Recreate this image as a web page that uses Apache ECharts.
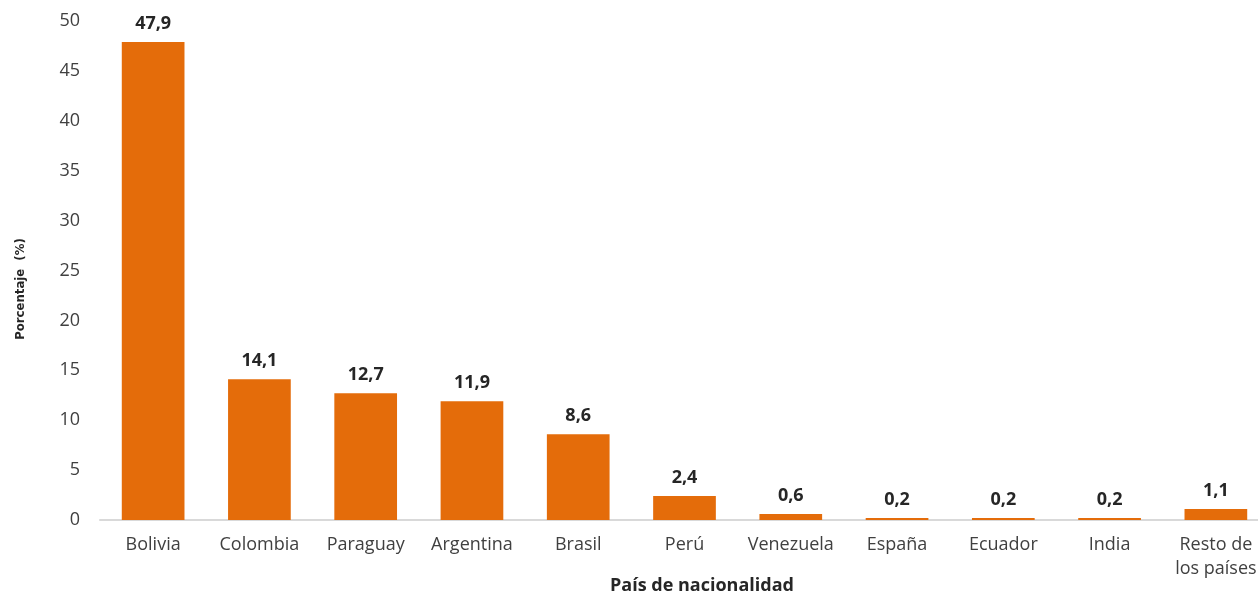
<!DOCTYPE html>
<html>
<head>
<meta charset="utf-8">
<script src="https://cdn.jsdelivr.net/npm/echarts@6/dist/echarts.min.js"></script>
<style>
  html, body { margin: 0; padding: 0; background: #fff; }
  #chart { width: 1258px; height: 596px; }
</style>
</head>
<body>
<div id="chart"></div>
<script>
// datos
var paises = ['Bolivia', 'Colombia', 'Paraguay', 'Argentina', 'Brasil', 'Perú', 'Venezuela', 'España', 'Ecuador', 'India', 'Resto de\nlos países'];
var porcentajes = [47.9, 14.1, 12.7, 11.9, 8.6, 2.4, 0.6, 0.2, 0.2, 0.2, 1.1];
var yTicks = [0, 5, 10, 15, 20, 25, 30, 35, 40, 45, 50];

var fuente = '"Open Sans", "Liberation Sans", sans-serif';

var myChart = echarts.init(document.getElementById('chart'));
var option = {
    animation: false,
    grid: {
        left: 100,
        top: 21,
        bottom: 76,
        width: 1169,
        outerBoundsMode: 'none',
        containLabel: false
    },
    xAxis: {
        type: 'category',
        data: paises,
        axisLine: { lineStyle: { color: '#d9d9d9', width: 2 } },
        axisTick: { show: false },
        axisLabel: {
            color: '#404040',
            fontFamily: fuente,
            fontSize: 18,
            margin: 13,
            lineHeight: 24,
            interval: 0
        }
    },
    yAxis: {
        type: 'value',
        min: yTicks[0],
        max: yTicks[yTicks.length - 1],
        interval: 5,
        splitLine: { show: false },
        axisLine: { show: false },
        axisTick: { show: false },
        axisLabel: {
            color: '#404040',
            fontFamily: fuente,
            fontSize: 18,
            margin: 20
        }
    },
    series: [{
        type: 'bar',
        data: porcentajes,
        barWidth: '59%',
        itemStyle: { color: '#E46C0A' },
        label: {
            show: true,
            position: 'top',
            distance: 9,
            color: '#262626',
            fontFamily: fuente,
            fontSize: 18,
            fontWeight: 'bold',
            formatter: function (p) {
                return String(p.value).replace('.', ',');
            }
        }
    }],
    graphic: [{
        type: 'text',
        left: 610,
        top: 577,
        style: {
            text: 'País de nacionalidad',
            fill: '#262626',
            font: 'bold 18px ' + fuente
        }
    }, {
        type: 'text',
        x: 21,
        y: 289,
        rotation: Math.PI / 2,
        style: {
            text: 'Porcentaje  (%)',
            fill: '#262626',
            font: 'bold 13px "Liberation Sans Narrow", "DejaVu Sans Condensed", sans-serif',
            align: 'center',
            verticalAlign: 'middle'
        }
    }]
};
myChart.setOption(option);
</script>
</body>
</html>
